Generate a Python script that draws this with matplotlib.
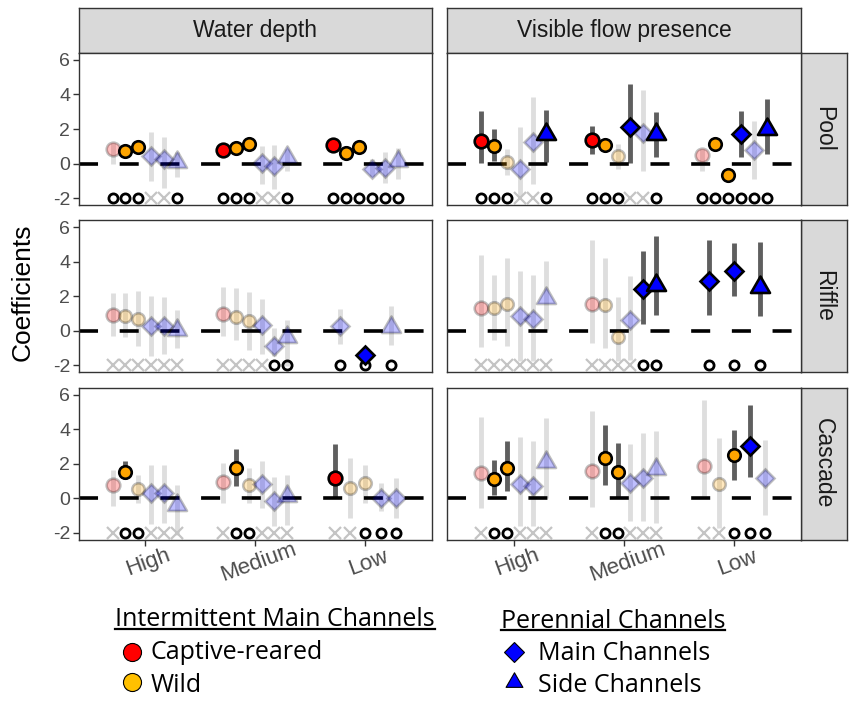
import numpy as np
import matplotlib
matplotlib.use("Agg")
import matplotlib.pyplot as plt
from matplotlib.lines import Line2D
from matplotlib.path import Path
from matplotlib.transforms import blended_transform_factory

plt.rcParams["axes.unicode_minus"] = False
plt.rcParams["font.family"] = ["Liberation Sans", "DejaVu Sans"]
plt.rcParams["lines.scale_dashes"] = False

nan = np.nan
groups = ["High", "Medium", "Low"]
habitats = ["Pool", "Riffle", "Cascade"]
variables = ["Water depth", "Visible flow presence"]

# series order: captive-reared, wild (x2), main channels (x2), side channel
# rows of each array are High / Medium / Low
est = {
    ("Pool", "Water depth"): [[0.83, 0.73, 0.98, 0.44, 0.25, 0.10],
                              [0.79, 0.89, 1.14, 0.06, -0.17, 0.37],
                              [1.06, 0.60, 0.98, -0.29, -0.27, 0.15]],
    ("Pool", "Visible flow presence"): [[1.31, 1.02, 0.10, -0.29, 1.25, 1.71],
                                        [1.37, 1.08, 0.44, 2.14, 1.79, 1.73],
                                        [0.48, 1.16, -0.66, 1.70, 0.79, 2.02]],
    ("Riffle", "Water depth"): [[0.92, 0.85, 0.69, 0.31, 0.31, 0.04],
                                [1.00, 0.81, 0.56, 0.33, -0.89, -0.37],
                                [nan, nan, nan, 0.31, -1.41, 0.22]],
    ("Riffle", "Visible flow presence"): [[1.33, 1.33, 1.58, 0.85, 0.69, 1.89],
                                          [1.56, 1.52, -0.37, 0.66, 2.43, 2.64],
                                          [nan, nan, nan, 2.87, 3.45, 2.52]],
    ("Cascade", "Water depth"): [[0.77, 1.54, 0.54, 0.29, 0.29, -0.39],
                                 [0.92, 1.73, 0.77, 0.81, -0.19, 0.10],
                                 [1.16, 0.58, 0.87, 0.00, 0.00, nan]],
    ("Cascade", "Visible flow presence"): [[1.45, 1.12, 1.77, 0.81, 0.73, 2.08],
                                           [1.58, 2.35, 1.54, 0.87, 1.19, 1.68],
                                           [1.89, 0.81, 2.47, 3.04, 1.16, nan]],
}
lower = {
    ("Pool", "Water depth"): [[-0.05, 0.45, 0.70, -1.00, -1.39, -0.80],
                              [0.55, 0.65, 0.90, -1.20, -1.48, -0.42],
                              [0.80, 0.35, 0.72, -0.70, -1.10, -0.90]],
    ("Pool", "Visible flow presence"): [[0.06, 0.15, -0.67, -1.87, -1.19, 0.10],
                                        [0.54, 0.80, -0.33, 0.06, -0.46, 0.40],
                                        [-0.42, 0.90, -0.90, 0.40, -0.90, 0.54]],
    ("Riffle", "Water depth"): [[-0.27, -0.35, -0.89, -1.43, -1.31, -0.98],
                                [-0.27, -0.50, -1.08, -1.31, -1.46, -2.04],
                                [nan, nan, nan, -0.73, -1.60, -0.79]],
    ("Riffle", "Visible flow presence"): [[-0.92, -0.50, -0.89, -1.75, -1.75, 0.08],
                                          [-0.69, -0.98, -1.75, -1.66, 0.42, 0.94],
                                          [nan, nan, nan, 0.94, 2.04, 0.85]],
    ("Cascade", "Water depth"): [[-0.48, 1.10, -0.29, -1.50, -1.45, -2.12],
                                 [-0.29, 0.73, -0.29, -0.58, -1.64, -1.54],
                                 [0.00, -1.16, -0.29, -0.77, -1.16, nan]],
    ("Cascade", "Visible flow presence"): [[-0.58, 0.19, 0.42, -1.64, -1.64, 0.00],
                                           [-0.52, 0.77, 0.04, -1.35, -1.31, -1.45],
                                           [0.10, -1.73, 1.06, 1.25, -0.96, nan]],
}
upper = {
    ("Pool", "Water depth"): [[1.20, 1.00, 1.25, 1.80, 1.56, 0.64],
                              [1.05, 1.15, 1.40, 1.00, 1.06, 0.83],
                              [1.30, 0.85, 1.22, 0.25, 0.64, 0.92]],
    ("Pool", "Visible flow presence"): [[3.04, 2.02, 0.83, 2.14, 3.87, 3.10],
                                        [2.20, 1.40, 1.12, 4.62, 4.24, 3.00],
                                        [0.83, 1.40, -0.40, 3.04, 2.47, 3.76]],
    ("Riffle", "Water depth"): [[2.20, 2.20, 2.33, 2.04, 1.95, 1.23],
                                [2.54, 2.49, 2.25, 1.85, 0.17, 0.66],
                                [nan, nan, nan, 1.27, -1.20, 1.43]],
    ("Riffle", "Visible flow presence"): [[4.41, 3.26, 4.22, 3.45, 3.26, 4.03],
                                          [5.28, 4.22, 1.97, 3.20, 4.64, 5.51],
                                          [nan, nan, nan, 5.24, 5.09, 5.13]],
    ("Cascade", "Water depth"): [[1.64, 2.16, 1.35, 1.93, 1.93, 0.77],
                                 [2.02, 2.85, 1.73, 2.16, 1.25, 1.35],
                                 [3.12, 2.35, 1.93, 0.87, 1.19, nan]],
    ("Cascade", "Visible flow presence"): [[4.72, 2.22, 3.28, 3.56, 3.31, 4.66],
                                           [5.05, 4.24, 3.18, 3.12, 3.76, 3.89],
                                           [5.68, 3.47, 3.95, 5.39, 3.37, nan]],
}
# 1 = interval excludes zero (drawn solid)
signif = {
    ("Pool", "Water depth"): ["011000", "111000", "111000"],
    ("Pool", "Visible flow presence"): ["110001", "110101", "011101"],
    ("Riffle", "Water depth"): ["000000", "000000", "000010"],
    ("Riffle", "Visible flow presence"): ["000000", "000011", "000111"],
    ("Cascade", "Water depth"): ["010000", "010000", "100000"],
    ("Cascade", "Visible flow presence"): ["011000", "011000", "001100"],
}
# symbols along y = -2 ('-' = series not fitted)
flags = {
    ("Pool", "Water depth"): ["oooxxo", "oooxxo", "oooooo"],
    ("Pool", "Visible flow presence"): ["oooxxo", "oooxxo", "oooooo"],
    ("Riffle", "Water depth"): ["xxxxxx", "xxxxoo", "---ooo"],
    ("Riffle", "Visible flow presence"): ["xxxxxx", "xxxxoo", "---ooo"],
    ("Cascade", "Water depth"): ["xooxxx", "xooxxx", "xxooo-"],
    ("Cascade", "Visible flow presence"): ["xooxxx", "xooxxx", "xxooo-"],
}

# equilateral triangle centred on its centroid (like R's pch 24)
tri = Path([(0, 2 / 3), (-0.57735, -1 / 3), (0.57735, -1 / 3), (0, 2 / 3)],
           [Path.MOVETO, Path.LINETO, Path.LINETO, Path.CLOSEPOLY])

styles = [
    dict(marker="o", color="#FF0000", ms=9.8),
    dict(marker="o", color="#FFA500", ms=9.0),
    dict(marker="o", color="#FFA500", ms=9.0),
    dict(marker="D", color="#0000FF", ms=8.9),
    dict(marker="D", color="#0000FF", ms=8.9),
    dict(marker=tri, color="#0000FF", ms=15.8),
]

W, H = 849, 702
fig = plt.figure(figsize=(W / 100, H / 100), dpi=100)


def add_px(x0, y0, x1, y1):
    return fig.add_axes([x0 / W, 1 - y1 / H, (x1 - x0) / W, (y1 - y0) / H])


col_x = [(78.5, 431.7), (447.3, 800.7)]
row_top = [53.0, 220.4, 387.6]
row_h = 152.0
edge = "#333333"

for c, var in enumerate(variables):
    s = add_px(col_x[c][0], 8, col_x[c][1], 53)
    s.set_facecolor("#D9D9D9")
    s.set_xticks([])
    s.set_yticks([])
    for sp in s.spines.values():
        sp.set_color(edge)
        sp.set_linewidth(1.0)
    s.text(0.5, 0.5, var, ha="center", va="center", fontsize=16.5, color="#1A1A1A",
           transform=s.transAxes)

for r, hab in enumerate(habitats):
    y0 = row_top[r]
    s = add_px(800.7, y0, 846.7, y0 + row_h)
    s.set_facecolor("#D9D9D9")
    s.set_xticks([])
    s.set_yticks([])
    for sp in s.spines.values():
        sp.set_color(edge)
        sp.set_linewidth(1.0)
    s.text(0.5, 0.5, hab, ha="center", va="center", rotation=-90, fontsize=16.5,
           color="#1A1A1A", transform=s.transAxes)

    for c, var in enumerate(variables):
        ax = add_px(col_x[c][0], y0, col_x[c][1], y0 + row_h)
        key = (hab, var)
        ax.set_xlim(0.4, 3.6)
        ax.set_ylim(-2.4, 6.4)
        for sp in ax.spines.values():
            sp.set_color(edge)
            sp.set_linewidth(1.0)

        ax.axhline(0, color="black", lw=2.6, ls=(0, (13.7, 15.6)), zorder=2)

        for g in range(3):
            e = est[key][g]
            present = [k for k in range(6) if not np.isnan(e[k])]
            n = len(present)
            for j, k in enumerate(present):
                x = g + 1 + (j - (n - 1) / 2) * 0.7 / n
                st = styles[k]
                solid = signif[key][g][k] == "1"
                ax.plot([x, x], [lower[key][g][k], upper[key][g][k]],
                        color="#5F5F5F" if solid else "#DEDEDE", lw=3.5,
                        solid_capstyle="butt", zorder=1)
                f = flags[key][g][k]
                if f == "o":
                    ax.plot(x, -2, marker="o", ms=6.6, mfc="none", mec="black",
                            mew=2.0, zorder=2.5)
                elif f == "x":
                    ax.plot(x, -2, marker="x", ms=8.2, color="#C4C4C4",
                            mew=1.6, zorder=2.5)
                ax.plot(x, e[k], marker=st["marker"], ms=st["ms"],
                        mfc=st["color"], mec="black", mew=1.9,
                        alpha=1.0 if solid else 0.25, zorder=4 if solid else 3)

        ax.set_xticks([1, 2, 3])
        ax.set_yticks([-2, 0, 2, 4, 6])
        ax.tick_params(length=4, width=1, color=edge, labelcolor="#4D4D4D",
                       labelsize=14, pad=2)
        ax.set_xticklabels([])
        if c == 0:
            ax.set_yticklabels(["-2", "0", "2", "4", "6"])
        else:
            ax.set_yticklabels([])
            ax.tick_params(axis="y", length=0)
        if r < 2:
            ax.tick_params(axis="x", length=0)
        else:
            tr = blended_transform_factory(ax.transData, ax.transAxes)
            for g, lab in enumerate(groups):
                ax.text(g + 1 + 0.03, -23.0 / row_h, lab, rotation=20, ha="center",
                        va="center", fontsize=16, color="#4D4D4D", transform=tr)

fig.text(22.5 / W, 1 - 292 / H, "Coefficients", rotation=90, ha="center",
         va="center", fontsize=19, color="black")

# legend
leg_font = ["Open Sans", "DejaVu Sans"]
leg_size = 18.0


def underlined(x, y, s):
    t = fig.text(x / W, 1 - y / H, s, ha="left", va="baseline", fontsize=leg_size,
                 family=leg_font, color="black")
    fig.canvas.draw()
    bb = t.get_window_extent()
    fig.add_artist(Line2D([bb.x0 / W, bb.x1 / W], [1 - (y + 2) / H] * 2,
                          color="black", lw=1.6, transform=fig.transFigure))


underlined(115, 626.5, "Intermittent Main Channels")
underlined(500.7, 627.5, "Perennial Channels")

legend_rows = [
    (131.7, 652.3, "o", "#FF0000", 13.0, 151, 659.3, "Captive-reared"),
    (131.7, 682.3, "o", "#FFC000", 13.0, 151, 691.7, "Wild"),
    (514.0, 652.3, "D", "#0000FF", 10.0, 538.3, 660.5, "Main Channels"),
    (514.0, 681.7, tri, "#0000FF", 14.0, 538.3, 691.7, "Side Channels"),
]
for mx, my, mk, col, ms, tx, ty, lab in legend_rows:
    fig.add_artist(Line2D([mx / W], [1 - my / H], marker=mk, ms=ms, mfc=col,
                          mec="black", mew=0.8, ls="none", transform=fig.transFigure))
    fig.text(tx / W, 1 - ty / H, lab, ha="left", va="baseline", fontsize=leg_size,
             family=leg_font, color="black")

fig.savefig("out.png", dpi=100)
